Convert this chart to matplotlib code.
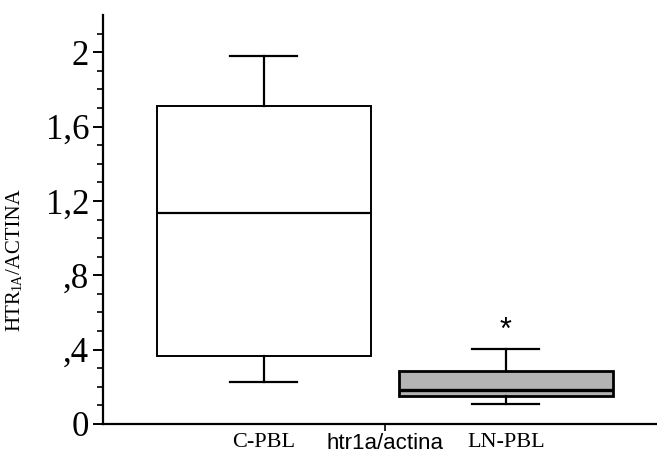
import matplotlib
matplotlib.use("Agg")
import matplotlib.pyplot as plt
import numpy as np

# values
groups = ["C-PBL", "LN-PBL"]
whisker_low = [0.226, 0.106]
q1 = [0.367, 0.151]
median = [1.137, 0.183]
q3 = [1.71, 0.287]
whisker_high = [1.98, 0.404]
box_colors = ["white", "#b4b4b4"]
y_ticks = [0, 0.4, 0.8, 1.2, 1.6, 2.0]
y_tick_labels = ["0", ",4", ",8", "1,2", "1,6", "2"]

SERIF = "Liberation Serif"
SANS = "Liberation Sans"

fig = plt.figure(figsize=(6.57, 4.54), dpi=100)
ax = fig.add_axes([103 / 657, 30 / 454, 554 / 657, 409 / 454])

stats = []
for i, g in enumerate(groups):
    stats.append(dict(label=g, whislo=whisker_low[i], q1=q1[i], med=median[i],
                      q3=q3[i], whishi=whisker_high[i], fliers=[]))

positions = [1, 2]
bp = ax.bxp(stats, positions=positions, widths=0.884, capwidths=0.277,
            patch_artist=True, showfliers=False,
            boxprops=dict(linewidth=1.4, edgecolor="black"),
            medianprops=dict(color="black", linewidth=1.6),
            whiskerprops=dict(color="black", linewidth=1.6),
            capprops=dict(color="black", linewidth=1.6))
for patch, c in zip(bp["boxes"], box_colors):
    patch.set_facecolor(c)
bp["boxes"][1].set_linewidth(2.0)
bp["medians"][1].set_linewidth(2.4)

ax.set_xlim(0.335, 2.624)
ax.set_ylim(0, 2.2)

ax.spines["top"].set_visible(False)
ax.spines["right"].set_visible(False)
ax.spines["left"].set_linewidth(1.6)
ax.spines["bottom"].set_linewidth(1.6)

ax.set_yticks(y_ticks)
ax.set_yticklabels(y_tick_labels, fontfamily=SERIF, fontsize=25)
ax.set_yticks(np.arange(0.1, 2.2, 0.1), minor=True)
ax.tick_params(axis="y", which="major", length=7, width=1.4, direction="out", pad=3)
ax.tick_params(axis="y", which="minor", length=4, width=1.2, direction="out")

ax.set_xticks([1.5])
ax.set_xticklabels([""])
ax.tick_params(axis="x", which="major", length=5, width=1.2, direction="out")

# category labels under the axis
for p, g in zip(positions, groups):
    ax.text(p, -0.1, g, ha="center", va="center", fontfamily=SERIF,
            fontsize=16, clip_on=False)
ax.text(1.5, -0.105, "htr1a/actina", ha="center", va="center", fontfamily=SANS,
        fontsize=16, clip_on=False)

# significance mark
ax.text(2, 0.5, "*", ha="center", va="center", fontfamily=SANS, fontsize=22)

# y label, with the small "1A"
fig.canvas.draw()
renderer = fig.canvas.get_renderer()
x_lab = 15 / 657
y_px = 454 - 331
parts = [("HTR", 15), ("1A", 10), ("/ACTINA", 15)]
for txt, fs in parts:
    t = fig.text(x_lab, y_px / 454, txt, rotation=90, ha="center", va="bottom",
                 fontfamily=SERIF, fontsize=fs)
    if txt == "1A":
        t.set_x(x_lab + 2 / 657)
    bb = t.get_window_extent(renderer)
    y_px += bb.height - 1

fig.savefig("out.png", dpi=100)
